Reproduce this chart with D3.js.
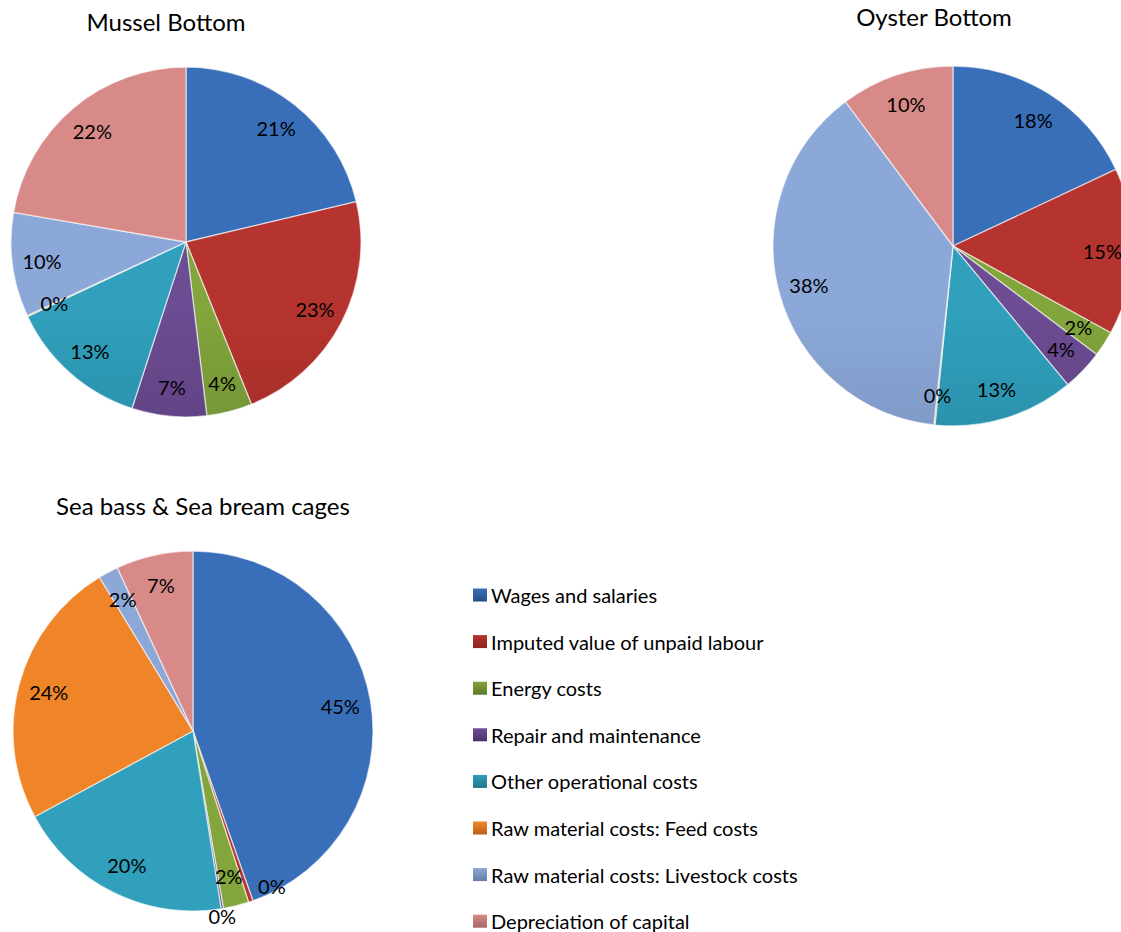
<!DOCTYPE html>
<html>
<head>
<meta charset="utf-8">
<script src="https://cdn.jsdelivr.net/npm/d3@7"></script>
<style>
  html, body { margin: 0; padding: 0; background: #ffffff; }
  svg { display: block; }
  text { font-family: Lato, "Open Sans", sans-serif; fill: #000; }
</style>
</head>
<body>
<svg id="chart" width="1121" height="932"></svg>
<script>
// ---- Data ----
const categories = [
  "Wages and salaries",
  "Imputed value of unpaid labour",
  "Energy costs",
  "Repair and maintenance",
  "Other operational costs",
  "Raw material costs: Feed costs",
  "Raw material costs: Livestock costs",
  "Depreciation of capital"
];
const chartTitles = ["Mussel Bottom", "Oyster Bottom", "Sea bass & Sea bream cages"];
const musselValues  = [21.3, 22.6, 4.2, 6.9, 13.0, 0.1, 9.6, 22.3];
const oysterValues  = [18.0, 15.0, 2.3, 3.7, 12.6, 0.1, 38.1, 10.2];
const seabassValues = [44.6, 0.4, 2.3, 0.2, 19.6, 24.2, 1.8, 6.9];
const seriesValues = [musselValues, oysterValues, seabassValues];

// ---- Styles (top / bottom of vertical gradient) ----
const colorTop    = ["#386fb8", "#b6342f", "#82a53c", "#6c4c92", "#30a0bd", "#ef8528", "#8ba8d8", "#d78a87"];
const colorBottom = ["#284f86", "#882320", "#5d792a", "#4a3469", "#21758a", "#bb5f19", "#687da3", "#a56664"];

// ---- Layout ----
const layouts = [
  { cx: 186, cy: 242, r: 175, tx: 166, ty: 31 },
  { cx: 953, cy: 246, r: 180, tx: 934, ty: 26 },
  { cx: 193, cy: 731, r: 180, tx: 203, ty: 515 }
];
const labelRatio = 0.83;
// label nudges for crowded tiny slices (chart index, slice index, angle deg, radius ratio)
const labelOverrides = [
  { c: 2, i: 1, angle: 153, ratio: 0.965 },
  { c: 2, i: 3, angle: 171, ratio: 1.04 }
];

const svg = d3.select("#chart");
const defs = svg.append("defs");

const pie = d3.pie().sort(null).value(d => d).startAngle(0).endAngle(2 * Math.PI);

seriesValues.forEach((vals, ci) => {
  const L = layouts[ci];
  categories.forEach((cat, k) => {
    const g = defs.append("linearGradient")
      .attr("id", `g${ci}_${k}`)
      .attr("gradientUnits", "userSpaceOnUse")
      .attr("x1", 0).attr("x2", 0)
      .attr("y1", L.cy - L.r).attr("y2", L.cy + L.r);
    g.append("stop").attr("offset", "0%").attr("stop-color", colorTop[k]);
    g.append("stop").attr("offset", "100%").attr("stop-color", colorBottom[k]);
  });

  const gPie = svg.append("g").attr("transform", `translate(${L.cx},${L.cy})`);
  const arc = d3.arc().innerRadius(0).outerRadius(L.r);
  const arcs = pie(vals);

  gPie.selectAll("path.slice")
    .data(arcs)
    .enter().append("path")
    .attr("class", "slice")
    .attr("d", arc)
    .attr("fill", (d, k) => `url(#g${ci}_${k})`)
    .attr("stroke", "rgba(255,255,255,0.6)")
    .attr("stroke-width", 1.3)
    .attr("stroke-linejoin", "round");

  gPie.selectAll("text.lbl")
    .data(arcs)
    .enter().append("text")
    .attr("class", "lbl")
    .attr("text-anchor", "middle")
    .attr("dominant-baseline", "central")
    .attr("font-size", 20)
    .attr("transform", (d, k) => {
      const ov = labelOverrides.find(o => o.c === ci && o.i === k);
      let a = (d.startAngle + d.endAngle) / 2;
      let rr = L.r * labelRatio;
      if (ov) { a = ov.angle * Math.PI / 180; rr = L.r * ov.ratio; }
      return `translate(${rr * Math.sin(a)},${-rr * Math.cos(a)})`;
    })
    .text(d => d3.format(".0f")(d.data) + "%");

  svg.append("text")
    .attr("x", L.tx).attr("y", L.ty)
    .attr("text-anchor", "middle")
    .attr("font-size", 24)
    .text(chartTitles[ci]);
});

// ---- Legend ----
const legendX = 473, legendY0 = 595, legendStep = 46.6;
const legend = svg.append("g");
categories.forEach((cat, k) => {
  const lg = defs.append("linearGradient")
    .attr("id", `lg${k}`)
    .attr("x1", 0).attr("x2", 0).attr("y1", 0).attr("y2", 1);
  lg.append("stop").attr("offset", "0%").attr("stop-color", colorTop[k]);
  lg.append("stop").attr("offset", "100%").attr("stop-color", colorBottom[k]);
  const y = legendY0 + k * legendStep;
  legend.append("rect")
    .attr("x", legendX).attr("y", y - 6.5)
    .attr("width", 14).attr("height", 13)
    .attr("fill", `url(#lg${k})`);
  legend.append("text")
    .attr("x", legendX + 18).attr("y", y)
    .attr("dominant-baseline", "central")
    .attr("font-size", 20)
    .text(cat);
});
</script>
</body>
</html>
